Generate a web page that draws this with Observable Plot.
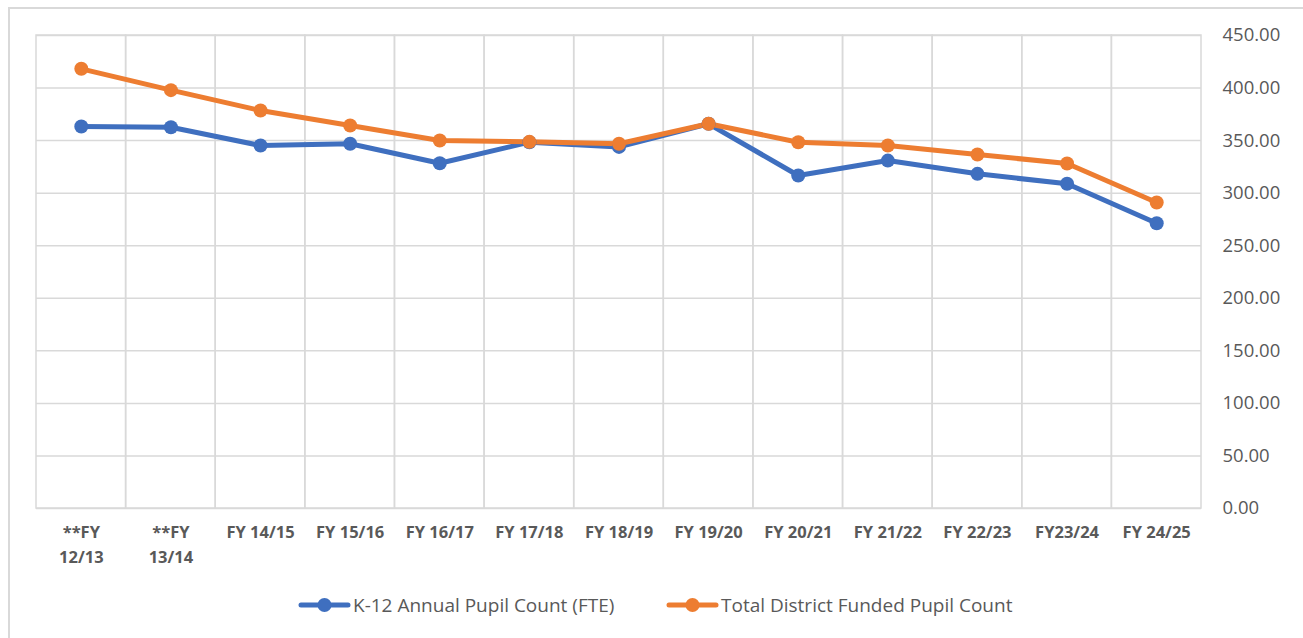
<!DOCTYPE html>
<html>
<head>
<meta charset="utf-8">
<script src="https://cdn.jsdelivr.net/npm/d3@7"></script>
<script src="https://cdn.jsdelivr.net/npm/@observablehq/plot@0.6"></script>
<style>
  html, body { margin: 0; padding: 0; background: #fff; }
  body { width: 1303px; height: 638px; position: relative; overflow: hidden; font-family: "Open Sans", sans-serif; }
  #frame { position: absolute; left: 8px; top: 7px; width: 1310px; height: 650px; border-top: 2px solid #d9d9d9; border-left: 2px solid #d9d9d9; box-sizing: border-box; }
  #chart { position: absolute; left: 0; top: 0; }
  #legend { position: absolute; top: 592px; left: 0; width: 1303px; height: 26px; font-size: 19px; color: #595959; }
  .item { position: absolute; top: 0; display: flex; align-items: center; height: 26px; }
  .item svg { margin-right: 2px; }
</style>
</head>
<body>
<div id="frame"></div>
<div id="chart"></div>
<div id="legend"></div>
<script>
const categories = ["**FY 12/13", "**FY 13/14", "FY 14/15", "FY 15/16", "FY 16/17", "FY 17/18", "FY 18/19", "FY 19/20", "FY 20/21", "FY 21/22", "FY 22/23", "FY23/24", "FY 24/25"];
const tickLabels = ["**FY\n12/13", "**FY\n13/14", "FY 14/15", "FY 15/16", "FY 16/17", "FY 17/18", "FY 18/19", "FY 19/20", "FY 20/21", "FY 21/22", "FY 22/23", "FY23/24", "FY 24/25"];
const k12Values = [363.4, 362.7, 345.3, 347.0, 328.5, 348.5, 344.0, 366.0, 316.8, 331.0, 318.4, 308.9, 271.4];
const totalValues = [418.3, 398.0, 378.6, 364.4, 350.1, 348.8, 347.0, 366.0, 348.5, 345.3, 336.8, 328.2, 291.1];
const yTicks = [0, 50, 100, 150, 200, 250, 300, 350, 400, 450];
const seriesNames = ["K-12 Annual Pupil Count (FTE)", "Total District Funded Pupil Count"];
const colors = ["#3f6fbf", "#ed7d31"];

const rows = [];
categories.forEach((c, i) => {
  rows.push({cat: c, value: k12Values[i], series: seriesNames[0]});
});
categories.forEach((c, i) => {
  rows.push({cat: c, value: totalValues[i], series: seriesNames[1]});
});
const labelOf = new Map(categories.map((c, i) => [c, tickLabels[i]]));

const chart = Plot.plot({
  width: 1303,
  height: 585,
  marginLeft: 36,
  marginRight: 102,
  marginTop: 35,
  marginBottom: 77,
  style: { fontFamily: "Open Sans, sans-serif", background: "transparent" },
  x: { type: "band", domain: categories, padding: 0, round: false },
  y: { domain: [0, 450] },
  color: { domain: seriesNames, range: colors },
  marks: [
    Plot.ruleY(yTicks, { stroke: "#d9d9d9", strokeWidth: 1.5 }),
    Plot.cell(categories, { x: d => d, fill: "none", stroke: "#d9d9d9", strokeWidth: 1.5 }),
    Plot.axisX({
      tickSize: 0, tickPadding: 12, fontSize: 16.5, fontWeight: "bold", fill: "#595959",
      lineHeight: 1.5, tickFormat: d => labelOf.get(d), label: null
    }),
    Plot.axisY({
      anchor: "right", ticks: yTicks, tickSize: 0, tickPadding: 21, fontSize: 18.5,
      fill: "#595959", tickFormat: d => d3.format(".2f")(d), label: null
    }),
    Plot.line(rows, { x: "cat", y: "value", z: "series", stroke: "series", strokeWidth: 5, strokeLinejoin: "round", strokeLinecap: "round" }),
    Plot.dot(rows, { x: "cat", y: "value", fill: "series", r: 7 })
  ]
});
document.getElementById("chart").appendChild(chart);

// Legend
const legend = document.getElementById("legend");
const positions = [298, 666];
seriesNames.forEach((name, i) => {
  const item = document.createElement("div");
  item.className = "item";
  item.style.left = positions[i] + "px";
  item.innerHTML = `<svg width="53" height="20"><line x1="3" y1="10" x2="50" y2="10" stroke="${colors[i]}" stroke-width="5" stroke-linecap="round"/><circle cx="26.5" cy="10" r="7" fill="${colors[i]}"/></svg><span>${name}</span>`;
  legend.appendChild(item);
});
</script>
</body>
</html>
